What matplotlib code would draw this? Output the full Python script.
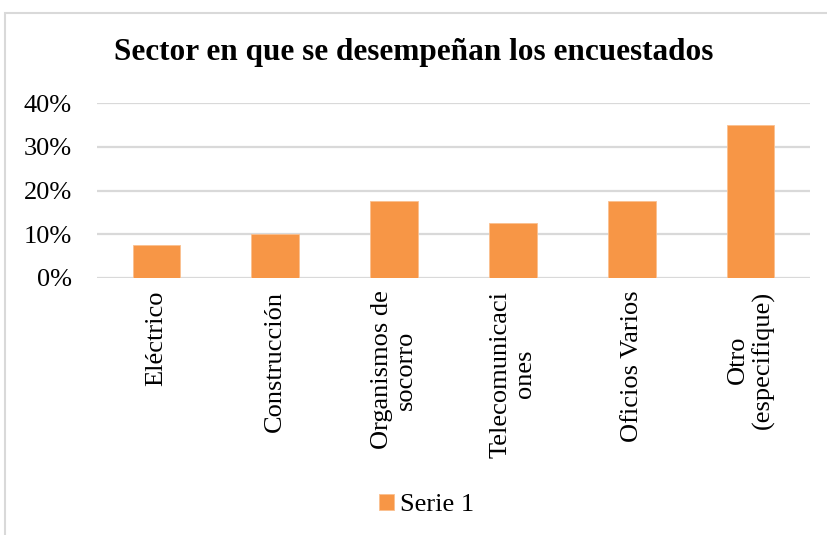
import matplotlib.pyplot as plt
from matplotlib.patches import Rectangle
from matplotlib.ticker import PercentFormatter

categories = ["Eléctrico", "Construcción", "Organismos de\nsocorro",
              "Telecomunicaci\nones", "Oficios Varios", "Otro\n(especifique)"]
values = [7.5, 10.0, 17.5, 12.5, 17.5, 35.0]
yticks = [0, 10, 20, 30, 40]

plt.rcParams["font.family"] = ["Liberation Serif", "DejaVu Serif"]

fig = plt.figure(figsize=(8.28, 5.35), dpi=100)

# chart frame (cut off at right and bottom like the screenshot)
fig.patches.append(Rectangle((5 / 828, -0.1), 1.1, (535 - 13) / 535 + 0.1,
                             transform=fig.transFigure, fill=False,
                             edgecolor="#D9D9D9", linewidth=1.5))

ax = fig.add_axes([97 / 828, (535 - 278) / 535, (810 - 97) / 828, (278 - 103) / 535])

x = range(len(categories))
ax.bar(x, values, width=0.4, color="#F79646", edgecolor="#FAC090",
       linewidth=0.6, label="Serie 1", zorder=3)

ax.set_xlim(-0.5, len(categories) - 0.5)
ax.set_ylim(0, 40)
ax.set_yticks(yticks)
ax.yaxis.set_major_formatter(PercentFormatter(decimals=0))
ax.grid(axis="y", color="#D9D9D9", linewidth=1.6, zorder=0)
ax.set_xticks(list(x))
ax.set_xticklabels(categories, rotation=90, ha="center", va="top",
                   multialignment="center", linespacing=1.15)
ax.tick_params(axis="both", length=0, labelsize=19, colors="black")
ax.tick_params(axis="x", pad=9)
ax.tick_params(axis="y", pad=18)
for s in ax.spines.values():
    s.set_visible(False)

fig.text(0.5, (535 - 52) / 535, "Sector en que se desempeñan los encuestados",
         ha="center", va="center", fontsize=22.5, fontweight="bold")

fig.legend(loc="center", bbox_to_anchor=(427 / 828, (535 - 505) / 535), frameon=False,
           fontsize=19, handlelength=0.55, handleheight=0.55, handletextpad=0.25)

fig.savefig("out.png", dpi=100)
